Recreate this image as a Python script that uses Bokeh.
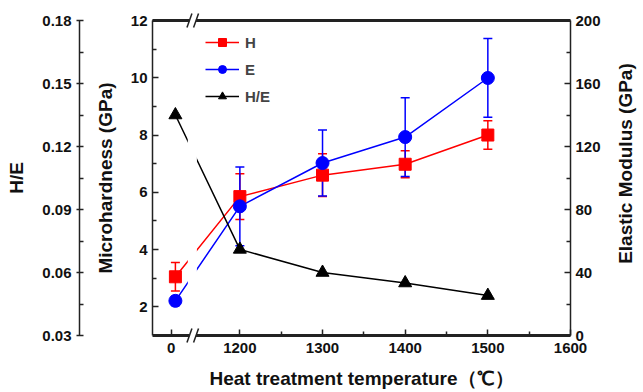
import math
from bokeh.plotting import figure
from bokeh.layouts import row
from bokeh.models import (Range1d, LinearAxis, FixedTicker, Whisker, ColumnDataSource,
                          Legend, LegendItem, BoxAnnotation, Label, TeeHead,
                          CustomJSTickFormatter, PrintfTickFormatter)
from bokeh.embed import file_html
from bokeh.resources import INLINE

# ---------------- data ----------------
temps = [25, 1200, 1300, 1400, 1500]
hardness = [3.05, 5.85, 6.6, 6.98, 8.0]
hardness_err = [0.5, 0.8, 0.75, 0.47, 0.5]
modulus = [22.0, 82.0, 109.5, 126.0, 163.5]
modulus_err = [3.0, 25.0, 21.0, 25.0, 25.0]
h_over_e = [0.135, 0.071, 0.060, 0.055, 0.049]

x_major = [0, 1200, 1300, 1400, 1500, 1600]
x_minor = [1250, 1350, 1450, 1550]
h_major = [2, 4, 6, 8, 10, 12]
h_minor = [3, 5, 7, 9, 11]
e_major = [0, 40, 80, 120, 160, 200]
e_minor = [20, 60, 100, 140, 180]
he_major = [0.03, 0.06, 0.09, 0.12, 0.15, 0.18]
he_minor = [0.045, 0.075, 0.105, 0.135, 0.165]

# broken x axis: values below BREAK_AT are compressed next to the axis start
BREAK_AT = 1000
ZERO_POS = 1117
LOW_SCALE = 0.2
X_MIN, X_MAX = 1094.3, 1600
H_MIN, H_MAX = 1, 12
GAP = (1139, 1147)

FRAME_L, FRAME_R, FRAME_T, FRAME_B = 152, 573, 20, 335
PX_PER_X = (FRAME_R - FRAME_L) / (X_MAX - X_MIN)
PX_PER_H = (FRAME_B - FRAME_T) / (H_MAX - H_MIN)


def xpos(t):
    return t if t >= BREAK_AT else ZERO_POS + t * LOW_SCALE


xs = [xpos(t) for t in temps]

FONT = "Liberation Sans"
RED = "#ff0000"
BLUE = "#0000ff"
BLACK = "#000000"
AX = "#222222"

MAIN_W = 603
p = figure(width=MAIN_W, height=392, output_backend="svg", toolbar_location=None,
           x_range=Range1d(X_MIN, X_MAX), y_range=Range1d(H_MIN, H_MAX),
           min_border_left=FRAME_L, min_border_right=MAIN_W - FRAME_R,
           min_border_top=FRAME_T, min_border_bottom=392 - FRAME_B)
p.extra_y_ranges = {"E": Range1d(0, 200), "HE": Range1d(0.03, 0.18)}
p.xgrid.visible = False
p.ygrid.visible = False
p.outline_line_color = None
p.background_fill_color = "white"
p.border_fill_color = "white"


def style(ax, label, tick_in=6, tick_out=0):
    ax.axis_label = label
    ax.axis_line_color = AX
    ax.axis_line_width = 1.5
    ax.major_tick_line_color = AX
    ax.minor_tick_line_color = AX
    ax.major_tick_line_width = 1.5
    ax.minor_tick_line_width = 1.5
    ax.major_tick_in = tick_in
    ax.major_tick_out = tick_out
    ax.minor_tick_in = 4
    ax.minor_tick_out = 0
    ax.major_label_text_font = FONT
    ax.major_label_text_font_style = "bold"
    ax.major_label_text_font_size = "15px"
    ax.major_label_text_color = "#111111"
    ax.major_label_standoff = 5
    ax.axis_label_text_font = FONT
    ax.axis_label_text_font_style = "bold"
    ax.axis_label_text_font_size = "19px"
    ax.axis_label_text_color = "#111111"


# x axis (its line is drawn below as glyphs so that it can be broken)
xa = p.xaxis[0]
xa.ticker = FixedTicker(ticks=[xpos(t) for t in x_major], minor_ticks=x_minor)
xa.formatter = CustomJSTickFormatter(code="return tick < 1150 ? '0' : String(Math.round(tick));")
style(xa, "Heat treatment temperature\uff08\u2103\uff09")
xa.axis_line_color = None
xa.major_label_standoff = 7
xa.axis_label_standoff = 12

# left (microhardness)
ya = p.yaxis[0]
ya.ticker = FixedTicker(ticks=h_major, minor_ticks=h_minor)
style(ya, "Microhardness (GPa)")
ya.axis_label_standoff = 12

# spacer axis (invisible) to push the H/E axis outward
spacer = LinearAxis(ticker=FixedTicker(ticks=[6]),
                    formatter=CustomJSTickFormatter(code="return '';"),
                    axis_line_color=None, major_tick_line_color=None, minor_tick_line_color=None,
                    major_tick_in=0, major_tick_out=12, minor_tick_in=0, minor_tick_out=0,
                    major_label_standoff=0, axis_label=None)
p.add_layout(spacer, "left")

# outer left (H/E)
he_ax = LinearAxis(y_range_name="HE", ticker=FixedTicker(ticks=he_major, minor_ticks=he_minor),
                   formatter=PrintfTickFormatter(format="%.2f"))
style(he_ax, "H/E", tick_in=4, tick_out=3)
he_ax.major_label_standoff = 5
he_ax.axis_label_standoff = 12
p.add_layout(he_ax, "left")

# right (elastic modulus)
ea = LinearAxis(y_range_name="E", ticker=FixedTicker(ticks=e_major, minor_ticks=e_minor))
style(ea, None)
p.add_layout(ea, "right")

# top and bottom frame lines with the break gap (half of the width is clipped by the frame)
frame_src = ColumnDataSource(dict(
    x0=[X_MIN, GAP[1], X_MIN, GAP[1]],
    x1=[GAP[0], X_MAX, GAP[0], X_MAX],
    y0=[H_MIN, H_MIN, H_MAX, H_MAX],
    y1=[H_MIN, H_MIN, H_MAX, H_MAX],
))
p.segment("x0", "y0", "x1", "y1", source=frame_src, line_color=AX, line_width=3, level="overlay")

# "//" break marks
dx = 2.5 / PX_PER_X
dy = 7 / PX_PER_H
mark_x = [GAP[0], GAP[1], GAP[0], GAP[1]]
mark_y = [H_MIN, H_MIN, H_MAX, H_MAX]
p.segment([mx - dx for mx in mark_x], [my - dy for my in mark_y],
          [mx + dx for mx in mark_x], [my + dy for my in mark_y],
          line_color=AX, line_width=1.5, level="overlay")

# ---------------- series ----------------
src = ColumnDataSource(dict(
    x=xs, h=hardness, e=modulus, he=h_over_e,
    h_up=[v + d for v, d in zip(hardness, hardness_err)],
    h_lo=[v - d for v, d in zip(hardness, hardness_err)],
    e_up=[v + d for v, d in zip(modulus, modulus_err)],
    e_lo=[v - d for v, d in zip(modulus, modulus_err)],
))

lh = p.line("x", "h", source=src, line_color=RED, line_width=1.5)
le = p.line("x", "e", source=src, line_color=BLUE, line_width=1.5, y_range_name="E")
lhe = p.line("x", "he", source=src, line_color=BLACK, line_width=1.5, y_range_name="HE")

wh = Whisker(base="x", upper="h_up", lower="h_lo", source=src, line_color=RED, line_width=1.5,
             upper_head=TeeHead(size=9, line_color=RED, line_width=1.5),
             lower_head=TeeHead(size=9, line_color=RED, line_width=1.5))
we = Whisker(base="x", upper="e_up", lower="e_lo", source=src, line_color=BLUE, line_width=1.5,
             y_range_name="E",
             upper_head=TeeHead(size=9, line_color=BLUE, line_width=1.5),
             lower_head=TeeHead(size=9, line_color=BLUE, line_width=1.5))
p.add_layout(wh)
p.add_layout(we)

# gap in the data lines at the axis break
p.add_layout(BoxAnnotation(left=GAP[0] - 2, right=GAP[1] + 1, fill_color="white", fill_alpha=1.0,
                           line_color=None, level="annotation"))

sh = p.scatter("x", "h", source=src, marker="square", size=12, color=RED)
se = p.scatter("x", "e", source=src, marker="circle", size=13, color=BLUE, y_range_name="E")
she = p.scatter("x", "he", source=src, marker="triangle", size=13, color=BLACK, y_range_name="HE")

legend = Legend(items=[LegendItem(label="H", renderers=[lh, sh]),
                       LegendItem(label="E", renderers=[le, se]),
                       LegendItem(label="H/E", renderers=[lhe, she])],
                location=(53, 229), border_line_color=None, background_fill_alpha=0,
                padding=0, margin=0, spacing=7, glyph_width=34, glyph_height=20,
                label_height=20, label_standoff=6,
                label_text_font=FONT, label_text_font_size="15px", label_text_font_style="bold")
p.add_layout(legend)

# narrow strip on the right that carries the upward-reading right-axis title
q = figure(width=643 - MAIN_W, height=392, output_backend="svg", toolbar_location=None,
           x_range=Range1d(0, 1), y_range=Range1d(0, 392),
           min_border_left=0, min_border_right=0, min_border_top=0, min_border_bottom=0)
q.axis.visible = False
q.xgrid.visible = False
q.ygrid.visible = False
q.outline_line_color = None
q.background_fill_color = "white"
q.border_fill_color = "white"
q.add_layout(Label(x=0.55, y=392 - 178, text="Elastic Modulus (GPa)", angle=math.pi / 2,
                   text_align="center", text_baseline="middle",
                   text_font=FONT, text_font_size="19px", text_font_style="bold",
                   text_color="#111111"))

layout = row(p, q, spacing=0)
open("out.html", "w").write(file_html(layout, INLINE))
